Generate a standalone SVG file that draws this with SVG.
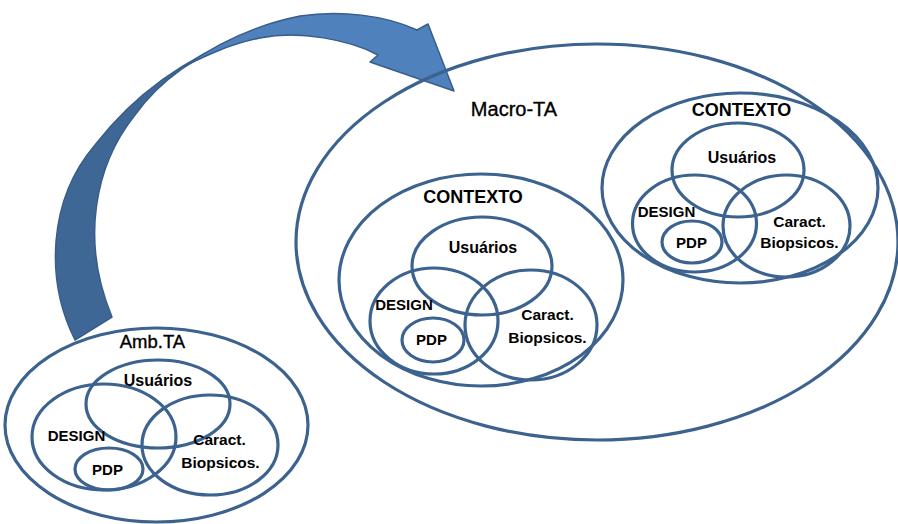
<svg xmlns="http://www.w3.org/2000/svg" width="898" height="524" viewBox="0 0 898 524">
<style>
.e{fill:none;stroke:#3c628f;stroke-width:3.2}
.t{font-family:"Liberation Sans",Arial,sans-serif;font-weight:bold;fill:#000;text-anchor:middle}
.r{font-family:"Liberation Sans",Arial,sans-serif;font-weight:normal;fill:#000;stroke:#000;stroke-width:0.35;text-anchor:middle}
.ctx{font-size:18px}
.us{font-size:16px}
.sm{font-size:15px}
.ca{font-size:15.5px}
</style>
<rect width="898" height="524" fill="#fff"/>
<g id="connectors">
<path d="M75,340 C45,280 48,200 95,145 C130,100 180,60 245,36 L240,40 C200,52 160,80 135,115 C95,165 80,240 112,317 Z" fill="#3f6796" stroke="#385d8a" stroke-width="1.5" stroke-linejoin="round"/>
<path d="M185,66 C215,45 255,25 300,16 C340,10 385,15 417,30 L428,24 L454,91 L370,62 L378,55 C350,40 300,30 260,38 C230,44 205,56 185,66 Z" fill="#4f81bd" stroke="#385d8a" stroke-width="1.5" stroke-linejoin="round"/>
</g>
<g id="macro-ta">
<ellipse class="e" cx="597" cy="242" rx="301" ry="198"/>
<text class="r" x="514" y="116" font-size="20">Macro-TA</text>
</g>
<g id="contexto-left">
<ellipse class="e" cx="481" cy="280" rx="142" ry="106"/>
<text class="t ctx" x="473" y="203">CONTEXTO</text>
</g>
<g id="usuarios-left">
<ellipse class="e" cx="482" cy="266" rx="70" ry="49"/>
<text class="t us" x="483" y="253">Usuários</text>
</g>
<g id="design-left">
<ellipse class="e" cx="434" cy="321" rx="64" ry="53"/>
<text class="t sm" x="404" y="310">DESIGN</text>
</g>
<g id="caract-left">
<ellipse class="e" cx="531" cy="325" rx="66" ry="55"/>
<text class="t ca" x="547.5" y="320">Caract.</text>
<text class="t ca" x="547.5" y="343">Biopsicos.</text>
</g>
<g id="pdp-left">
<ellipse class="e" cx="433" cy="340" rx="31" ry="22"/>
<text class="t sm" x="431.5" y="345">PDP</text>
</g>
<g id="contexto-right">
<ellipse class="e" cx="740" cy="188" rx="138" ry="95"/>
<text class="t ctx" x="741.5" y="116">CONTEXTO</text>
</g>
<g id="usuarios-right">
<ellipse class="e" cx="738" cy="170" rx="66" ry="47"/>
<text class="t us" x="742" y="163">Usuários</text>
</g>
<g id="design-right">
<ellipse class="e" cx="694.5" cy="223.5" rx="62" ry="48.5"/>
<text class="t sm" x="666.5" y="217">DESIGN</text>
</g>
<g id="caract-right">
<ellipse class="e" cx="786.5" cy="226" rx="63.5" ry="51"/>
<text class="t ca" x="799.5" y="227">Caract.</text>
<text class="t ca" x="799.5" y="248">Biopsicos.</text>
</g>
<g id="pdp-right">
<ellipse class="e" cx="692" cy="242" rx="30" ry="21"/>
<text class="t sm" x="691.5" y="248">PDP</text>
</g>
<g id="amb-ta">
<ellipse class="e" cx="156.5" cy="425" rx="151.5" ry="97"/>
<text class="r" x="152.5" y="348" font-size="18.5">Amb.TA</text>
</g>
<g id="usuarios-amb">
<ellipse class="e" cx="158" cy="404" rx="72" ry="44"/>
<text class="t us" x="158" y="386">Usuários</text>
</g>
<g id="design-amb">
<ellipse class="e" cx="104" cy="437" rx="72" ry="53"/>
<text class="t sm" x="76.5" y="441">DESIGN</text>
</g>
<g id="caract-amb">
<ellipse class="e" cx="210" cy="445" rx="68" ry="50"/>
<text class="t ca" x="219.5" y="445">Caract.</text>
<text class="t ca" x="220.5" y="468">Biopsicos.</text>
</g>
<g id="pdp-amb">
<ellipse class="e" cx="109" cy="469" rx="34" ry="21"/>
<text class="t sm" x="107.5" y="475">PDP</text>
</g>
</svg>
